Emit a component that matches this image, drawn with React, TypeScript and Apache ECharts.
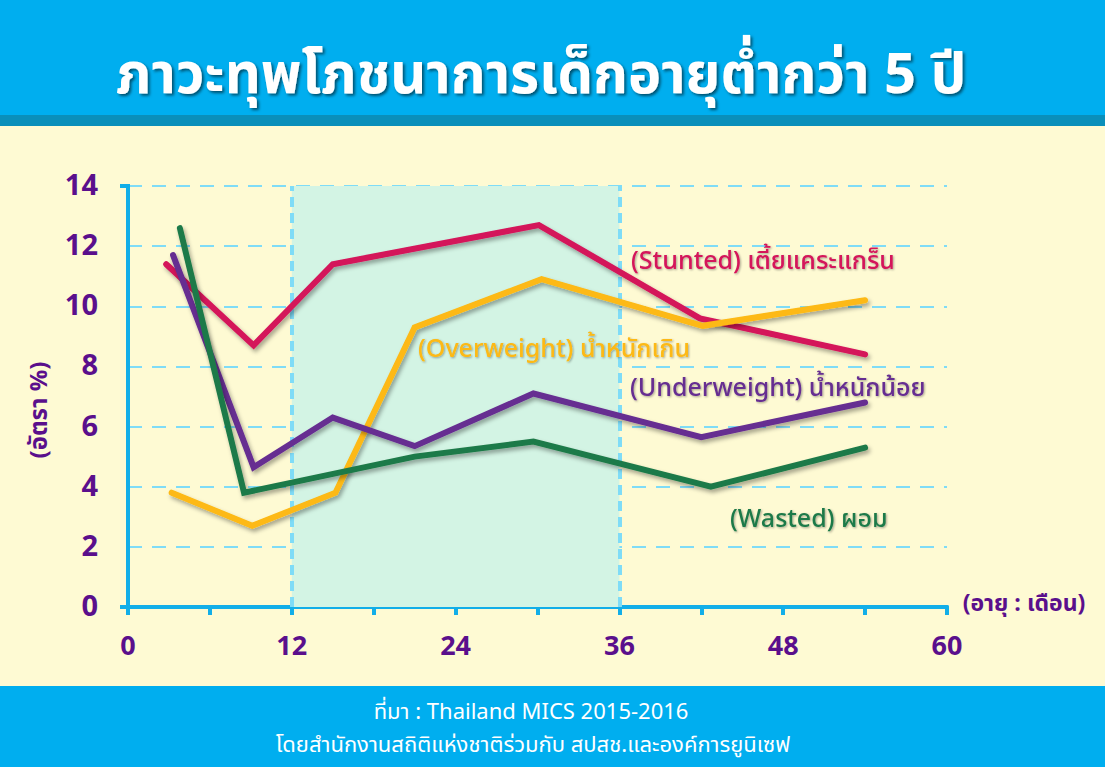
import React, { useEffect, useRef } from "react";
import * as echarts from "echarts";

const TITLE = "ภาวะทุพโภชนาการเด็กอายุต่ำกว่า 5 ปี";
const SOURCE_1 = "ที่มา : Thailand MICS 2015-2016";
const SOURCE_2 = "โดยสำนักงานสถิติแห่งชาติร่วมกับ สปสช.และองค์การยูนิเซฟ";
const Y_NAME = "(อัตรา %)";
const X_NAME = "(อายุ : เดือน)";

const stuntedAge = [2.8, 9.2, 15, 30.1, 41.9, 54];
const stuntedRate = [11.4, 8.7, 11.4, 12.7, 9.6, 8.4];
const overAge = [3.2, 9.1, 15.2, 21, 30.3, 42.1, 54];
const overRate = [3.8, 2.7, 3.8, 9.3, 10.9, 9.35, 10.2];
const underAge = [3.3, 9.2, 15, 21, 29.7, 42, 54];
const underRate = [11.7, 4.65, 6.3, 5.35, 7.1, 5.65, 6.8];
const wastedAge = [3.8, 8.5, 21, 29.7, 42.7, 54];
const wastedRate = [12.6, 3.8, 5.0, 5.5, 4.0, 5.3];

const seriesNames = [
  "(Stunted) เตี้ยแคระแกร็น",
  "(Overweight) น้ำหนักเกิน",
  "(Underweight) น้ำหนักน้อย",
  "(Wasted) ผอม",
];
const seriesColors = ["#d4145a", "#fdb913", "#662d91", "#1f7a48"];
const highlightRange = [12, 36];

const FONT = "'Noto Sans Thai', 'Noto Sans', 'DejaVu Sans', sans-serif";
const PURPLE = "#5a0f8c";
const AXIS_BLUE = "#12aee8";

const zip = (xs: number[], ys: number[]) => xs.map((x, i) => [x, ys[i]]);

export default function App() {
  const ref = useRef<HTMLDivElement>(null);
  useEffect(() => {
    if (!ref.current) return;
    const chart = echarts.init(ref.current, null, { renderer: "svg" });
    const datasets = [
      zip(stuntedAge, stuntedRate),
      zip(overAge, overRate),
      zip(underAge, underRate),
      zip(wastedAge, wastedRate),
    ];
    const lineSeries: any[] = datasets.map((d, i) => ({
      type: "line",
      name: seriesNames[i],
      data: d,
      showSymbol: false,
      symbol: "none",
      z: 5 + (i === 3 ? 1 : 0),
      lineStyle: {
        color: seriesColors[i],
        width: 6,
        cap: "round",
        join: "miter",
        shadowColor: "rgba(0,0,0,0.35)",
        shadowBlur: 4,
        shadowOffsetX: 2,
        shadowOffsetY: 3,
      },
    }));
    lineSeries.unshift({
      type: "line",
      data: [],
      z: 1,
      markArea: {
        silent: true,
        itemStyle: { color: "#d3f4e4" },
        data: [[{ xAxis: highlightRange[0] }, { xAxis: highlightRange[1] }]],
      },
      markLine: {
        silent: true,
        symbol: "none",
        label: { show: false },
        lineStyle: { color: "#7fdcf7", width: 4, type: [10, 6] },
        data: highlightRange.map((v) => ({ xAxis: v })),
      },
    });

    const labelStyle = (i: number) => ({
      fill: seriesColors[i],
      font: `500 25px ${FONT}`,
      textShadowColor: "rgba(0,0,0,0.35)",
      textShadowBlur: 2,
      textShadowOffsetX: 1,
      textShadowOffsetY: 1,
    });

    chart.setOption({
      animation: false,
      backgroundColor: "#fefad3",
      grid: { left: 128, right: 158, top: 186, bottom: 160 },
      xAxis: [
        {
          type: "value",
          min: 0,
          max: 60,
          interval: 6,
          axisLine: { show: true, lineStyle: { color: AXIS_BLUE, width: 4 } },
          axisTick: { show: true, length: 8, lineStyle: { color: AXIS_BLUE, width: 4 } },
          axisLabel: {
            color: PURPLE,
            fontSize: 27,
            fontWeight: "bold",
            fontFamily: FONT,
            margin: 26,
            formatter: (v: number) => (v % 12 === 0 ? String(v) : ""),
          },
          splitLine: { show: false },
        },
        {
          type: "value",
          position: "top",
          min: 0,
          max: 60,
          interval: 6,
          axisLine: { show: true, lineStyle: { color: AXIS_BLUE, width: 4 } },
          axisTick: { show: false },
          axisLabel: { show: false },
          splitLine: { show: false },
        },
      ],
      yAxis: [
        {
          type: "value",
          min: 0,
          max: 14,
          interval: 2,
          axisLine: { show: true, lineStyle: { color: AXIS_BLUE, width: 4 } },
          axisTick: { show: false },
          axisLabel: {
            color: PURPLE,
            fontSize: 29,
            fontWeight: "bold",
            fontFamily: FONT,
            margin: 30,
          },
          splitLine: {
            show: true,
            lineStyle: { color: "#7fdcf7", width: 2, type: [14, 10] },
          },
        },
        {
          type: "value",
          position: "right",
          min: 0,
          max: 14,
          interval: 2,
          axisLine: { show: true, lineStyle: { color: AXIS_BLUE, width: 4 } },
          axisTick: { show: false },
          axisLabel: { show: false },
          splitLine: { show: false },
        },
      ],
      series: lineSeries,
      graphic: [
        { type: "rect", z: -10, shape: { x: 0, y: 0, width: 1105, height: 115 }, style: { fill: "#00aeef" } },
        { type: "rect", z: -10, shape: { x: 0, y: 115, width: 1105, height: 11 }, style: { fill: "#0a8fba" } },
        { type: "rect", z: -10, shape: { x: 0, y: 686, width: 1105, height: 81 }, style: { fill: "#00aeef" } },
        { type: "rect", z: 10, shape: { x: 120, y: 605, width: 10, height: 4 }, style: { fill: AXIS_BLUE } },
        { type: "rect", z: 10, shape: { x: 120, y: 184, width: 10, height: 4 }, style: { fill: AXIS_BLUE } },
        {
          type: "text",
          x: 541,
          y: 76,
          style: {
            text: TITLE,
            fill: "#ffffff",
            font: `bold 56px ${FONT}`,
            align: "center",
            verticalAlign: "middle",
            textShadowColor: "rgba(0,0,0,0.55)",
            textShadowBlur: 3,
            textShadowOffsetX: 2,
            textShadowOffsetY: 2,
          },
        },
        {
          type: "text",
          x: 531,
          y: 712,
          style: { text: SOURCE_1, fill: "#ffffff", font: `22px ${FONT}`, align: "center", verticalAlign: "middle" },
        },
        {
          type: "text",
          x: 533,
          y: 745,
          style: { text: SOURCE_2, fill: "#ffffff", font: `22px ${FONT}`, align: "center", verticalAlign: "middle" },
        },
        {
          type: "text",
          x: 40,
          y: 410,
          rotation: Math.PI / 2,
          style: { text: Y_NAME, fill: PURPLE, font: `bold 24px ${FONT}`, align: "center", verticalAlign: "middle" },
        },
        {
          type: "text",
          x: 1024,
          y: 604,
          style: { text: X_NAME, fill: PURPLE, font: `bold 23px ${FONT}`, align: "center", verticalAlign: "middle" },
        },
        { type: "text", z: 20, x: 631, y: 261, style: { ...labelStyle(0), text: seriesNames[0], verticalAlign: "middle" } },
        { type: "text", z: 20, x: 418, y: 349, style: { ...labelStyle(1), text: seriesNames[1], verticalAlign: "middle" } },
        { type: "text", z: 20, x: 630, y: 388, style: { ...labelStyle(2), text: seriesNames[2], verticalAlign: "middle" } },
        { type: "text", z: 20, x: 730, y: 519, style: { ...labelStyle(3), text: seriesNames[3], verticalAlign: "middle" } },
      ],
    });
    return () => chart.dispose();
  }, []);
  return (
    <div
      ref={ref}
      style={{ position: "fixed", left: 0, top: 0, width: 1105, height: 767 }}
    />
  );
}
